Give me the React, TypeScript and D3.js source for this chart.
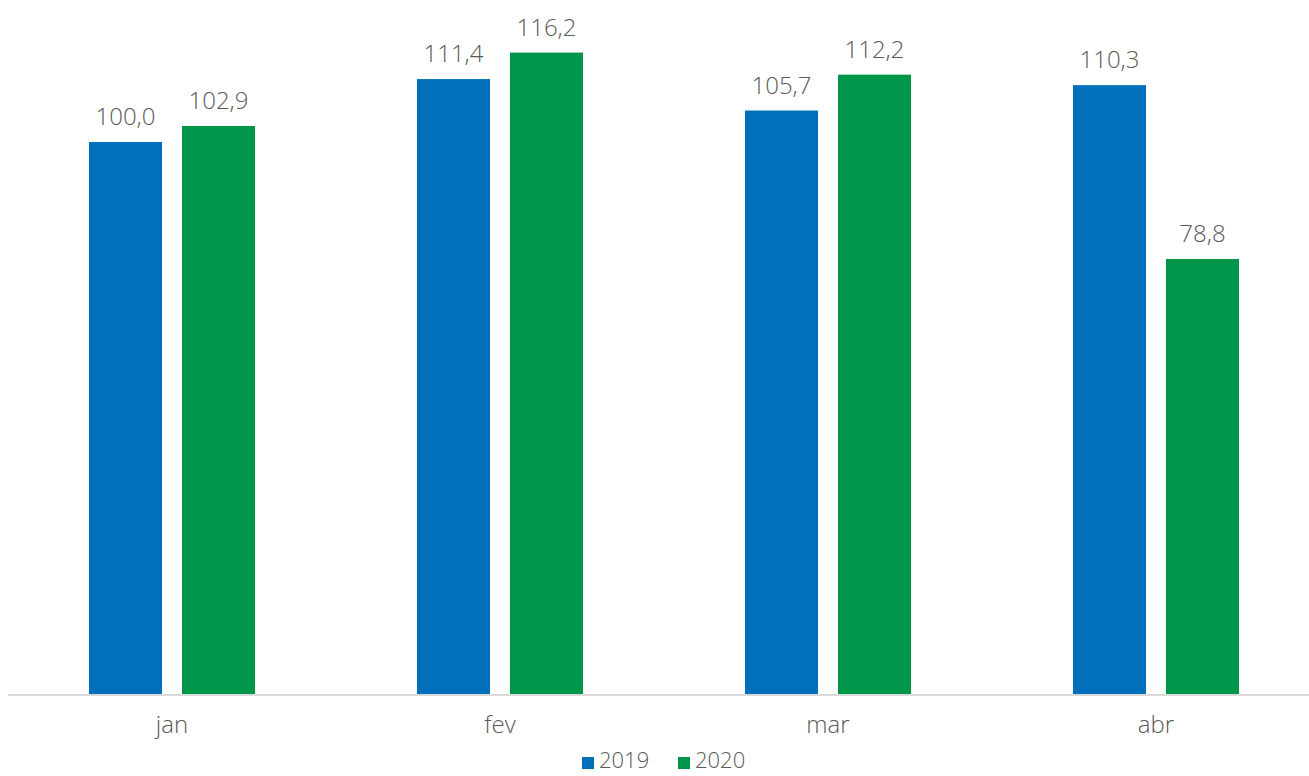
import { useMemo } from 'react';
import * as d3 from 'd3';

const months = ['jan', 'fev', 'mar', 'abr'];
const seriesNames = ['2019', '2020'];
const values2019 = [100.0, 111.4, 105.7, 110.3];
const values2020 = [102.9, 116.2, 112.2, 78.8];
const colors = ['#0070BA', '#00964A'];

const WIDTH = 1309;
const HEIGHT = 776;
const FONT = '"Open Sans", "Noto Sans", sans-serif';
const TEXT = '#595959';

export default function App() {
  const series = [values2019, values2020];

  const x = useMemo(
    () => d3.scaleBand<string>().domain(months).range([8, 1320]).paddingInner(0).paddingOuter(0),
    []
  );
  const y = useMemo(() => d3.scaleLinear().domain([0, 120]).range([694, 31.6]), []);

  const barW = 73;
  const gap = 20;
  const groupW = barW * 2 + gap;

  const fmt = (v: number) => v.toFixed(1).replace('.', ',');

  return (
    <svg
      width={WIDTH}
      height={HEIGHT}
      style={{ position: 'absolute', left: 0, top: 0, display: 'block' }}
    >
      <rect width={WIDTH} height={HEIGHT} fill="#fff" />
      {months.map((m, i) => {
        const cx = (x(m) ?? 0) + x.bandwidth() / 2;
        const start = cx - groupW / 2;
        return (
          <g key={m}>
            {series.map((s, j) => {
              const bx = start + j * (barW + gap);
              const by = y(s[i]);
              return (
                <g key={j}>
                  <rect x={bx} y={by} width={barW} height={y(0) - by} fill={colors[j]} />
                  <text
                    x={bx + barW / 2}
                    y={by - 17}
                    textAnchor="middle"
                    fontFamily={FONT}
                    fontWeight={300}
                    fontSize={24}
                    fill={TEXT}
                  >
                    {fmt(s[i])}
                  </text>
                </g>
              );
            })}
            <text
              x={cx}
              y={733}
              textAnchor="middle"
              fontFamily={FONT}
              fontWeight={300}
              fontSize={24}
              fill={TEXT}
            >
              {m}
            </text>
          </g>
        );
      })}
      <line x1={8} x2={WIDTH} y1={y(0) + 1} y2={y(0) + 1} stroke="#d9d9d9" strokeWidth={2} />
      {seriesNames.map((name, j) => {
        const lx = 582 + j * 96;
        return (
          <g key={name}>
            <rect x={lx} y={757} width={12} height={12} fill={colors[j]} />
            <text x={lx + 17} y={768} fontFamily={FONT} fontWeight={300} fontSize={22} fill={TEXT}>
              {name}
            </text>
          </g>
        );
      })}
    </svg>
  );
}
